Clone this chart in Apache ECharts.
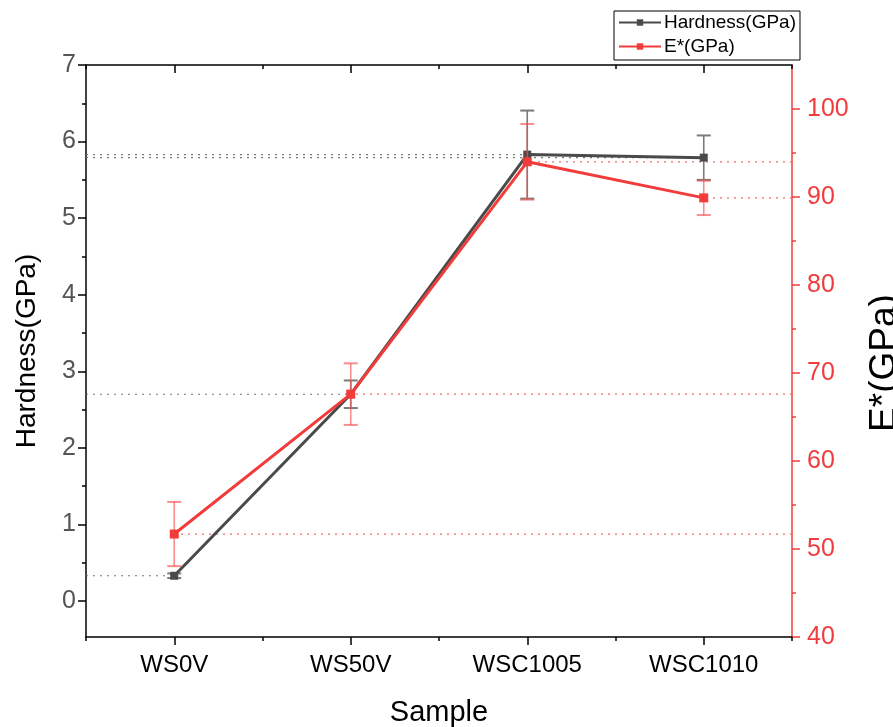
<!DOCTYPE html>
<html>
<head>
<meta charset="utf-8">
<script src="https://cdn.jsdelivr.net/npm/echarts@6/dist/echarts.min.js"></script>
<style>
  html, body { margin: 0; padding: 0; background: #fff; }
  #chart { width: 893px; height: 727px; }
</style>
</head>
<body>
<div id="chart"></div>
<script>
// Samples along the x axis
const categories = ['WS0V', 'WS50V', 'WSC1005', 'WSC1010'];
// Hardness (GPa) with its standard deviation
const hardness = [0.33, 2.70, 5.83, 5.79];
const hardnessErr = [0.03, 0.18, 0.575, 0.29];
// Reduced modulus E* (GPa) with its standard deviation
const modulus = [51.7, 67.6, 94.0, 89.9];
const modulusErr = [3.65, 3.5, 4.3, 1.95];
// Axis ticks
const hardnessTicks = [0, 1, 2, 3, 4, 5, 6, 7];
const modulusTicks = [40, 50, 60, 70, 80, 90, 100];

const FONT = '"Liberation Sans", Arial, sans-serif';
const GRAY = '#4a4a4a';
const RED = '#f23c3c';

const xPos = categories.map((_, i) => i + 1);
const xMin = 0.5, xMax = categories.length + 0.5;
const xMinor = [xMin].concat(xPos.map(v => v + 0.5));
const hMinor = hardnessTicks.slice(0, -1).map(v => v + 0.5);
const mMinor = modulusTicks.slice(0, -1).map(v => v + 5);

const hardPts = xPos.map((x, i) => [x, hardness[i]]);
const modPts = xPos.map((x, i) => [x, modulus[i]]);
const hardErrData = xPos.map((x, i) => [x, hardness[i] - hardnessErr[i], hardness[i] + hardnessErr[i]]);
const modErrData = xPos.map((x, i) => [x, modulus[i] - modulusErr[i], modulus[i] + modulusErr[i]]);

function errorBars(color, width) {
  return function (params, api) {
    const x = api.value(0);
    const lo = api.coord([x, api.value(1)]);
    const hi = api.coord([x, api.value(2)]);
    const hw = 7;
    const style = { stroke: color, lineWidth: width };
    return {
      type: 'group',
      children: [
        { type: 'line', shape: { x1: lo[0], y1: lo[1], x2: hi[0], y2: hi[1] }, style },
        { type: 'line', shape: { x1: hi[0] - hw, y1: hi[1], x2: hi[0] + hw, y2: hi[1] }, style: { stroke: color, lineWidth: 2 } },
        { type: 'line', shape: { x1: lo[0] - hw, y1: lo[1], x2: lo[0] + hw, y2: lo[1] }, style: { stroke: color, lineWidth: 2 } }
      ]
    };
  };
}

// dotted drop lines from each point to its own y axis
function guide(color, toLeft) {
  return function (params, api) {
    const x = api.value(0), y = api.value(1);
    const p = api.coord([x, y]);
    const e = api.coord([toLeft ? xMin : xMax, y]);
    return {
      type: 'line',
      shape: { x1: e[0], y1: e[1], x2: p[0], y2: p[1] },
      style: { stroke: color, lineWidth: 1.2, lineDash: [2, 5] }
    };
  };
}

function xAxisDef(position, values, len, inside, withLabels, showLine) {
  return {
    type: 'value', position, min: xMin, max: xMax,
    axisLine: { show: showLine, onZero: false, lineStyle: { color: '#000', width: 1.5 } },
    axisTick: { show: true, inside, length: len, customValues: values, lineStyle: { color: '#000', width: 1.5 } },
    axisLabel: withLabels ? {
      show: true, customValues: values, margin: 16,
      fontFamily: FONT, fontSize: 24, color: '#000',
      formatter: v => categories[Math.round(v) - 1] || ''
    } : { show: false },
    splitLine: { show: false }
  };
}

const chart = echarts.init(document.getElementById('chart'), null, { renderer: 'canvas' });
chart.setOption({
  animation: false,
  backgroundColor: '#fff',
  grid: { left: 86, right: 101, top: 65, bottom: 90, containLabel: false, outerBoundsMode: 'none' },
  legend: {
    orient: 'vertical', left: 614, top: 11,
    data: ['Hardness(GPa)', 'E*(GPa)'],
    itemWidth: 42, itemHeight: 8, itemGap: 5,
    padding: [2, 4, 4, 4],
    borderColor: '#000', borderWidth: 1, borderRadius: 0,
    backgroundColor: '#fff',
    textStyle: { fontFamily: FONT, fontSize: 19, color: '#000', padding: [0, 0, 0, -2] }
  },
  xAxis: [
    Object.assign(xAxisDef('bottom', xPos, 8, false, true, true), {
      name: 'Sample', nameLocation: 'middle', nameGap: 61,
      nameTextStyle: { fontFamily: FONT, fontSize: 29, color: '#000' }
    }),
    xAxisDef('bottom', xMinor, 4, false, false, false),
    xAxisDef('top', xPos, 8, true, false, true),
    xAxisDef('top', xMinor, 4, true, false, false)
  ],
  yAxis: [
    {
      type: 'value', position: 'left', min: -0.47, max: 7,
      name: 'Hardness(GPa)', nameLocation: 'middle', nameRotate: 90, nameGap: 45,
      nameTextStyle: { fontFamily: FONT, fontSize: 28, color: '#000' },
      axisLine: { show: true, lineStyle: { color: '#000', width: 1.5 } },
      axisTick: { show: true, length: 8, customValues: hardnessTicks, lineStyle: { color: '#000', width: 1.5 } },
      axisLabel: { customValues: hardnessTicks, margin: 10, fontFamily: FONT, fontSize: 25, color: '#555' },
      splitLine: { show: false }
    },
    {
      type: 'value', position: 'left', min: -0.47, max: 7,
      axisLine: { show: false },
      axisTick: { show: true, length: 4, customValues: hMinor, lineStyle: { color: '#000', width: 1.5 } },
      axisLabel: { show: false }, splitLine: { show: false }
    },
    {
      type: 'value', position: 'right', min: 40, max: 105,
      name: 'E*(GPa)', nameLocation: 'middle', nameRotate: 90, nameGap: 74,
      nameTextStyle: { fontFamily: FONT, fontSize: 37, color: '#000', padding: [0, 24, 0, 0] },
      axisLine: { show: true, lineStyle: { color: RED, width: 1.5 } },
      axisTick: { show: true, length: 8, customValues: modulusTicks, lineStyle: { color: RED, width: 1.5 } },
      axisLabel: { customValues: modulusTicks, margin: 15, fontFamily: FONT, fontSize: 25, color: RED },
      splitLine: { show: false }
    },
    {
      type: 'value', position: 'right', min: 40, max: 105,
      axisLine: { show: false },
      axisTick: { show: true, length: 4, customValues: mMinor, lineStyle: { color: RED, width: 1.5 } },
      axisLabel: { show: false }, splitLine: { show: false }
    }
  ],
  series: [
    {
      type: 'custom', name: 'hardness-guide', xAxisIndex: 0, yAxisIndex: 0, z: 1,
      renderItem: guide('#777', true), data: hardPts, silent: true
    },
    {
      type: 'custom', name: 'modulus-guide', xAxisIndex: 0, yAxisIndex: 2, z: 1,
      renderItem: guide('#f26b6b', false), data: modPts, silent: true
    },
    {
      type: 'custom', name: 'hardness-err', xAxisIndex: 0, yAxisIndex: 0, z: 2,
      renderItem: errorBars('#7a7a7a', 1.6), data: hardErrData, silent: true
    },
    {
      name: 'Hardness(GPa)', type: 'line', xAxisIndex: 0, yAxisIndex: 0, z: 3,
      data: hardPts, symbol: 'rect', symbolSize: 8, showSymbol: true,
      lineStyle: { color: GRAY, width: 3 }, itemStyle: { color: GRAY }
    },
    {
      type: 'custom', name: 'modulus-err', xAxisIndex: 0, yAxisIndex: 2, z: 4,
      renderItem: errorBars('rgba(242,80,80,0.65)', 1.6), data: modErrData, silent: true
    },
    {
      name: 'E*(GPa)', type: 'line', xAxisIndex: 0, yAxisIndex: 2, z: 5,
      data: modPts, symbol: 'rect', symbolSize: 9, showSymbol: true,
      lineStyle: { color: RED, width: 3 }, itemStyle: { color: RED }
    }
  ]
});
</script>
</body>
</html>
